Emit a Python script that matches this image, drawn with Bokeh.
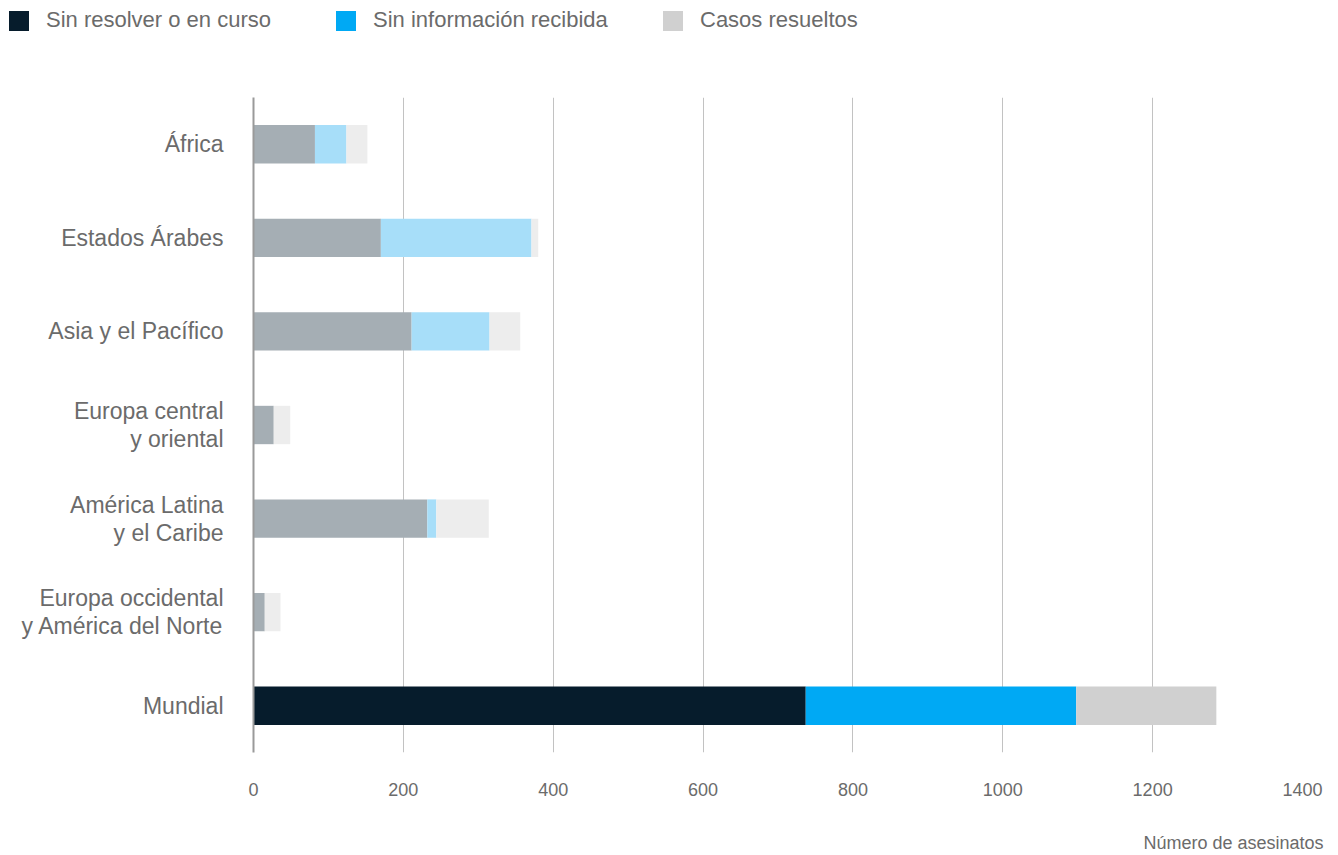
from bokeh.plotting import figure
from bokeh.layouts import column
from bokeh.models import (ColumnDataSource, FactorRange, Range1d, Legend, LegendItem,
                          Title, FixedTicker)
from bokeh.embed import file_html
from bokeh.resources import INLINE

# ---- data ----
regions = ["África", "Estados Árabes", "Asia y el Pacífico",
           "Europa central\ny oriental", "América Latina\ny el Caribe",
           "Europa occidental\ny América del Norte", "Mundial"]
unresolved = [82, 170, 211, 27, 232, 15, 737]
no_info = [42, 201, 104, 0, 12, 0, 361]
resolved = [28, 9, 41, 22, 70, 21, 187]
series = ["Sin resolver o en curso", "Sin información recibida", "Casos resueltos"]
x_ticks = [0, 200, 400, 600, 800, 1000, 1200, 1400]
x_title = "Número de asesinatos"

# ---- styles ----
FONT = "Liberation Sans"
TXT = "#6b6b6b"
region_colors = ["#a5aeb4", "#a7def9", "#ededed"]
world_colors = ["#061c2c", "#00a9f4", "#d0d0d0"]

u0 = [0] * len(regions)
u1 = list(unresolved)
n1 = [a + b for a, b in zip(u1, no_info)]
r1 = [a + b for a, b in zip(n1, resolved)]
is_world = [r == "Mundial" for r in regions]
cu = [world_colors[0] if w else region_colors[0] for w in is_world]
cn = [world_colors[1] if w else region_colors[1] for w in is_world]
cr = [world_colors[2] if w else region_colors[2] for w in is_world]
world_idx = regions.index("Mundial")

src = ColumnDataSource(dict(y=regions, u0=u0, u1=u1, n1=n1, r1=r1, cu=cu, cn=cn, cr=cr))

W = 1330
H = 0.41


def stack(fig):
    return [fig.hbar(y="y", left="u0", right="u1", height=H, fill_color="cu", line_color=None, source=src),
            fig.hbar(y="y", left="u1", right="n1", height=H, fill_color="cn", line_color=None, source=src),
            fig.hbar(y="y", left="n1", right="r1", height=H, fill_color="cr", line_color=None, source=src)]


# ---- legend strip (top); its bars lie outside its visible x range ----
pl = figure(width=W, height=97, output_backend="svg", toolbar_location=None,
            x_range=Range1d(-2, -1), y_range=FactorRange(factors=list(reversed(regions))),
            min_border=0)
try:
    pl.frame_align = False
except Exception:
    pass
pl.axis.visible = False
pl.grid.visible = False
pl.outline_line_color = None
leg_rs = stack(pl)
legend = Legend(items=[LegendItem(label=s, renderers=[r], index=world_idx)
                       for s, r in zip(series, leg_rs)],
                orientation="horizontal", location=(6, 64),
                glyph_width=25, glyph_height=25, label_standoff=15, label_width=279,
                label_height=20, spacing=8, padding=0, margin=0,
                border_line_color=None, background_fill_alpha=0,
                label_text_font=FONT, label_text_font_size="22px",
                label_text_color=TXT, label_text_baseline="middle")
pl.add_layout(legend)

# ---- main chart ----
p = figure(width=W, height=758, output_backend="svg", toolbar_location=None,
           x_range=Range1d(0, 1400),
           y_range=FactorRange(factors=list(reversed(regions)), range_padding=0),
           min_border_left=253, min_border_right=28, min_border_top=0,
           min_border_bottom=103)
try:
    p.frame_align = False
except Exception:
    pass
p.outline_line_color = None
p.background_fill_color = "white"
stack(p)

p.xaxis.ticker = FixedTicker(ticks=x_ticks)
p.xaxis.axis_line_color = None
p.xaxis.major_tick_line_color = None
p.xaxis.minor_tick_line_color = None
p.xaxis.major_label_standoff = 24
p.xaxis.major_label_text_font = FONT
p.xaxis.major_label_text_font_size = "18px"
p.xaxis.major_label_text_color = TXT

p.yaxis.axis_line_color = "#9a9a9a"
p.yaxis.axis_line_width = 2
p.yaxis.major_tick_line_color = None
p.yaxis.minor_tick_line_color = None
p.yaxis.major_label_standoff = 24
p.yaxis.major_label_text_font = FONT
p.yaxis.major_label_text_font_size = "23px"
p.yaxis.major_label_text_color = TXT
p.yaxis.major_label_text_line_height = 1.08

p.ygrid.grid_line_color = None
p.xgrid.grid_line_color = "#c2c2c2"
p.xgrid.grid_line_width = 1

# spacer + axis title (bottom right)
p.add_layout(Title(text=" ", text_font_size="1px", standoff=29), "below")
p.add_layout(Title(text=x_title, align="right", offset=-21, standoff=0,
                   text_font=FONT, text_font_size="18px", text_font_style="normal",
                   text_color=TXT), "below")

layout = column(pl, p, spacing=0)
open("out.html", "w").write(file_html(layout, INLINE))
